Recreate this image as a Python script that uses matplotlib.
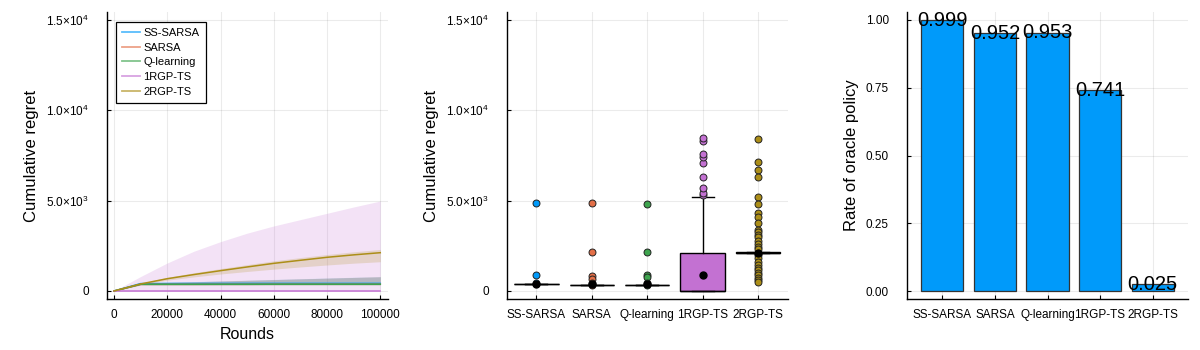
import matplotlib
matplotlib.use("Agg")
import matplotlib.pyplot as plt
from matplotlib.lines import Line2D
import numpy as np

plt.rcParams['font.family'] = ['Liberation Sans', 'DejaVu Sans']
plt.rcParams['mathtext.fontset'] = 'custom'
plt.rcParams['mathtext.rm'] = 'Liberation Sans'
plt.rcParams['mathtext.it'] = 'Liberation Sans'

# ---------------- data ----------------
algorithms = ["SS-SARSA", "SARSA", "Q-learning", "1RGP-TS", "2RGP-TS"]
colors = ["#009AFA", "#E36F47", "#3EA44E", "#C371D2", "#AC8E18"]

rounds = [0, 10000, 20000, 30000, 40000, 50000, 60000, 70000, 80000, 90000, 100000]

ss_sarsa_mid = [0, 410, 415, 415, 418, 420, 420, 420, 420, 420, 420]
ss_sarsa_lo = [0, 350, 350, 350, 350, 350, 350, 350, 350, 350, 350]
ss_sarsa_hi = [0, 440, 480, 520, 560, 600, 640, 680, 720, 760, 790]

sarsa_mid = [0, 370, 370, 370, 372, 372, 375, 375, 375, 375, 375]
sarsa_lo = [0, 330, 330, 330, 330, 330, 330, 330, 330, 330, 330]
sarsa_hi = [0, 430, 470, 510, 550, 590, 630, 670, 710, 750, 790]

qlearn_mid = [0, 370, 370, 370, 372, 372, 375, 375, 375, 375, 375]
qlearn_lo = [0, 330, 330, 330, 330, 330, 330, 330, 330, 330, 330]
qlearn_hi = [0, 430, 470, 510, 550, 590, 630, 670, 710, 750, 790]

rgp1_mid = [0, 0, 0, 0, 0, 0, 0, 0, 0, 0, 0]
rgp1_lo = [0, 0, 0, 0, 0, 0, 0, 0, 0, 0, 0]
rgp1_hi = [0, 800, 1550, 2200, 2730, 3200, 3600, 3950, 4300, 4650, 4980]

rgp2_mid = [0, 390, 680, 910, 1125, 1330, 1530, 1700, 1865, 2000, 2120]
rgp2_lo = [0, 360, 600, 780, 940, 1080, 1210, 1330, 1440, 1540, 1620]
rgp2_hi = [0, 420, 760, 1010, 1240, 1460, 1670, 1850, 2020, 2170, 2300]

# box plot statistics (final cumulative regret)
box_q1 = [370, 320, 320, 0, 2090]
box_med = [385, 335, 335, 0, 2130]
box_q3 = [395, 345, 345, 2085, 2160]
box_whislo = [360, 310, 310, 0, 2080]
box_whishi = [400, 355, 355, 5220, 2170]
box_mean = [390, 380, 390, 870, 2130]
fliers_ss_sarsa = [4890, 870, 420]
fliers_sarsa = [4850, 2140, 830, 650, 420, 320]
fliers_qlearn = [4830, 2140, 870, 750, 420, 330]
fliers_rgp1 = [5330, 5450, 5720, 6330, 7070, 7400, 7590, 8280, 8450]
fliers_rgp2 = [8440, 7160, 6700, 6310, 5220, 4830, 4300, 4120, 3780, 3380,
               3250, 3100, 3010, 2790, 2620, 2460, 2300, 2000, 1810, 1620,
               1440, 1300, 1160, 1000, 875, 700, 600, 510]

oracle_rate = [0.999, 0.952, 0.953, 0.741, 0.025]
oracle_labels = ["0.999", "0.952", "0.953", "0.741", "0.025"]

# ---------------- figure ----------------
fig = plt.figure(figsize=(12, 3.5), dpi=100)
W, H = 1200, 350

def add_ax(l, r, t, b):
    return fig.add_axes([l / W, 1 - b / H, (r - l) / W, (b - t) / H])

ax1 = add_ax(107, 388, 12, 299)
ax2 = add_ax(507, 788, 12, 299)
ax3 = add_ax(907, 1188, 12, 299)

tick_fs = 8.5
grid_kw = dict(color='black', alpha=0.08, linewidth=0.8)

def style(ax):
    for s in ['top', 'right']:
        ax.spines[s].set_visible(False)
    for s in ['left', 'bottom']:
        ax.spines[s].set_linewidth(1.0)
    ax.tick_params(axis='y', direction='in', length=3, pad=13, labelsize=tick_fs)
    ax.tick_params(axis='x', direction='in', length=3, pad=7, labelsize=tick_fs)
    ax.grid(True, **grid_kw)
    ax.set_axisbelow(True)

ylim_regret = (-443, 15443)
yticks_regret = [0, 5000, 10000, 15000]
ytl_regret = ["0", r"$5.0{\times}10^{3}$", r"$1.0{\times}10^{4}$", r"$1.5{\times}10^{4}$"]

# ---- panel 1: cumulative regret over rounds ----
mids = [ss_sarsa_mid, sarsa_mid, qlearn_mid, rgp1_mid, rgp2_mid]
los = [ss_sarsa_lo, sarsa_lo, qlearn_lo, rgp1_lo, rgp2_lo]
his = [ss_sarsa_hi, sarsa_hi, qlearn_hi, rgp1_hi, rgp2_hi]
for name, c, m, lo, hi in zip(algorithms, colors, mids, los, his):
    ax1.fill_between(rounds, lo, hi, color=c, alpha=0.2, linewidth=0)
for name, c, m in zip(algorithms, colors, mids):
    ax1.plot(rounds, m, color=c, linewidth=1.1)
style(ax1)
ax1.set_xlim(-2630, 102900)
ax1.set_ylim(*ylim_regret)
ax1.set_xticks([0, 20000, 40000, 60000, 80000, 100000])
ax1.set_xticklabels(["0", "20000", "40000", "60000", "80000", "100000"])
ax1.set_yticks(yticks_regret)
ax1.set_yticklabels(ytl_regret)
ax1.set_xlabel("Rounds", fontsize=11.5)
ax1.set_ylabel("Cumulative regret", fontsize=12)
ax1.yaxis.set_label_coords(-0.242, 0.5)
ax1.xaxis.set_label_coords(0.5, -0.097)
handles = [Line2D([0], [0], color=c, alpha=0.65, linewidth=1.3) for c in colors]
leg = ax1.legend(handles, algorithms, loc='upper left', fontsize=8, frameon=True,
                 fancybox=False, edgecolor='black', framealpha=1,
                 handlelength=1.65, borderpad=0.55, labelspacing=0.42,
                 handletextpad=0.3, borderaxespad=0,
                 bbox_to_anchor=(0.031, 0.966))
leg.get_frame().set_linewidth(0.9)

# ---- panel 2: box plot of final regret ----
fliers_all = [fliers_ss_sarsa, fliers_sarsa, fliers_qlearn, fliers_rgp1, fliers_rgp2]
stats = []
for i in range(len(algorithms)):
    stats.append(dict(q1=box_q1[i], med=box_med[i], q3=box_q3[i],
                      whislo=box_whislo[i], whishi=box_whishi[i],
                      mean=box_mean[i], fliers=fliers_all[i],
                      label=algorithms[i]))
pos = np.arange(len(algorithms))
bp = ax2.bxp(stats, positions=pos, widths=0.8, patch_artist=True,
             showmeans=True, showfliers=True, manage_ticks=False,
             capwidths=0.4,
             boxprops=dict(linewidth=1.0, edgecolor='black'),
             medianprops=dict(color='black', linewidth=1.0),
             whiskerprops=dict(color='black', linewidth=1.0),
             capprops=dict(color='black', linewidth=1.0),
             meanprops=dict(marker='o', markerfacecolor='black',
                            markeredgecolor='black', markersize=5))
for i, c in enumerate(colors):
    bp['boxes'][i].set_facecolor(c)
    bp['fliers'][i].set(marker='o', markerfacecolor=c, markeredgecolor='#222222',
                        markersize=5, markeredgewidth=0.7)
style(ax2)
ax2.set_xlim(-0.53, 4.54)
ax2.set_ylim(*ylim_regret)
ax2.set_xticks(pos)
ax2.set_xticklabels(algorithms)
ax2.set_yticks(yticks_regret)
ax2.set_yticklabels(ytl_regret)
ax2.set_ylabel("Cumulative regret", fontsize=12)
ax2.yaxis.set_label_coords(-0.242, 0.5)

# ---- panel 3: rate of oracle policy ----
pos3 = np.arange(len(algorithms))
ax3.bar(pos3, oracle_rate, width=0.8, color="#009AFA", edgecolor='#333333',
        linewidth=0.9)
for x, v, t in zip(pos3, oracle_rate, oracle_labels):
    ax3.text(x, v, t, ha='center', va='center', fontsize=14.5, color='black')
style(ax3)
ax3.set_xlim(-0.676, 4.676)
ax3.set_ylim(-0.0295, 1.0295)
ax3.set_xticks(pos3)
ax3.set_xticklabels(algorithms)
ax3.set_yticks([0, 0.25, 0.5, 0.75, 1.0])
ax3.set_yticklabels(["0.00", "0.25", "0.50", "0.75", "1.00"])
ax3.set_ylabel("Rate of oracle policy", fontsize=12)
ax3.yaxis.set_label_coords(-0.171, 0.5)

fig.savefig("out.png", dpi=100)
